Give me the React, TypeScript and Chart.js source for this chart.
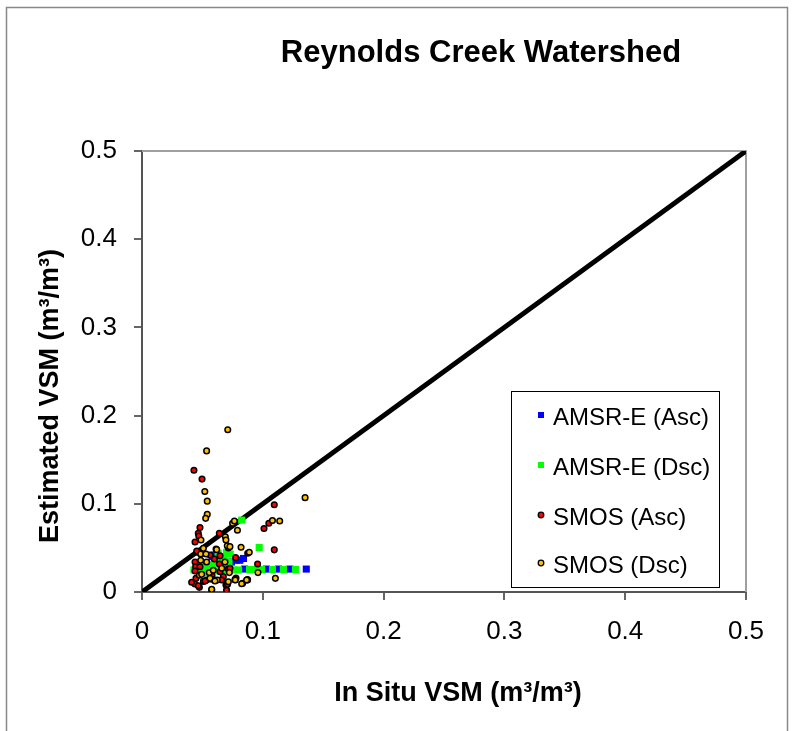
import React, { useEffect, useRef } from 'react';
import { Chart, registerables } from 'chart.js';

Chart.register(...registerables);

const chartTitle = 'Reynolds Creek Watershed';
const xAxisTitle = 'In Situ VSM (m³/m³)';
const yAxisTitle = 'Estimated VSM (m³/m³)';
const seriesNames = ['AMSR-E (Asc)', 'AMSR-E (Dsc)', 'SMOS (Asc)', 'SMOS (Dsc)'];
const axisTicks = [0, 0.1, 0.2, 0.3, 0.4, 0.5];
const identityLine = [0, 0.5];

const amsrAsc: [number, number][] = [
  [0.058, 0.040], [0.060, 0.042], [0.064, 0.037], [0.074, 0.034], [0.078, 0.036],
  [0.081, 0.036], [0.084, 0.038], [0.052, 0.030], [0.056, 0.028], [0.067, 0.026],
  [0.072, 0.026], [0.085, 0.026], [0.103, 0.026], [0.113, 0.026], [0.1225, 0.026],
  [0.136, 0.026],
];

const amsrDsc: [number, number][] = [
  [0.0825, 0.0815], [0.097, 0.0505], [0.070, 0.045], [0.073, 0.043], [0.068, 0.040],
  [0.066, 0.036], [0.072, 0.034], [0.062, 0.033], [0.058, 0.031], [0.055, 0.029],
  [0.050, 0.027], [0.046, 0.025], [0.043, 0.025], [0.053, 0.022], [0.060, 0.024],
  [0.065, 0.026], [0.070, 0.025], [0.076, 0.025], [0.080, 0.025], [0.089, 0.0255],
  [0.094, 0.0255], [0.099, 0.0255], [0.108, 0.0255], [0.117, 0.0255], [0.127, 0.0255],
  [0.048, 0.032], [0.063, 0.044],
];

const smosAsc: [number, number][] = [
  [0.043, 0.138], [0.0497, 0.128], [0.1095, 0.099], [0.105, 0.078], [0.101, 0.072],
  [0.1095, 0.0478], [0.048, 0.073], [0.0466, 0.0665], [0.047, 0.0635], [0.0439, 0.0567],
  [0.064, 0.0665], [0.0875, 0.044], [0.0957, 0.0317], [0.0775, 0.039], [0.0613, 0.0487],
  [0.0646, 0.041], [0.0458, 0.045], [0.0439, 0.034], [0.0444, 0.0287], [0.0439, 0.009],
  [0.0475, 0.0053], [0.070, 0.0023], [0.0695, 0.008], [0.0673, 0.0174], [0.066, 0.0136],
  [0.0535, 0.0136], [0.0508, 0.012], [0.0778, 0.0159], [0.0715, 0.026], [0.0453, 0.0465],
  [0.0715, 0.050], [0.0563, 0.042], [0.0599, 0.0374], [0.064, 0.0317], [0.0646, 0.023],
  [0.048, 0.0287], [0.0439, 0.0238], [0.0447, 0.0155], [0.0522, 0.0125], [0.077, 0.014],
  [0.0466, 0.0071], [0.0708, 0.0087], [0.0411, 0.011], [0.0728, 0.027], [0.058, 0.018],
];

const smosDsc: [number, number][] = [
  [0.071, 0.184], [0.0535, 0.160], [0.052, 0.114], [0.054, 0.103], [0.054, 0.088],
  [0.0527, 0.0835], [0.135, 0.107], [0.075, 0.078], [0.0765, 0.0805], [0.079, 0.070],
  [0.108, 0.081], [0.114, 0.0805], [0.0488, 0.059], [0.069, 0.0627], [0.0695, 0.059],
  [0.0706, 0.0525], [0.0728, 0.0514], [0.082, 0.0507], [0.096, 0.022], [0.1104, 0.0155],
  [0.0874, 0.014], [0.0486, 0.043], [0.053, 0.043], [0.0535, 0.034], [0.0475, 0.019],
  [0.0557, 0.022], [0.0577, 0.0023], [0.0715, 0.0117], [0.0623, 0.0136], [0.0577, 0.0144],
  [0.0772, 0.0136], [0.0833, 0.0098], [0.0872, 0.0136], [0.0723, 0.022], [0.0508, 0.0495],
  [0.0618, 0.048], [0.0888, 0.045], [0.0486, 0.036], [0.0687, 0.034], [0.066, 0.027],
  [0.059, 0.0246], [0.0494, 0.020], [0.0563, 0.0155], [0.0604, 0.0125], [0.0825, 0.0094],
  [0.0866, 0.0136], [0.0577, 0.003],
];

const seriesColors = ['#0000FF', '#00FF00', '#FF0000', '#FFC000'];
const seriesShapes = ['rect', 'rect', 'circle', 'circle'];

const FONT = "'Liberation Sans', Arial, Helvetica, sans-serif";

const decorPlugin = {
  id: 'decor',
  beforeDatasetsDraw(chart: any) {
    const { ctx, chartArea: a } = chart;
    ctx.save();
    ctx.strokeStyle = '#a0a0a0';
    ctx.lineWidth = 2;
    ctx.beginPath();
    ctx.moveTo(a.left, a.top);
    ctx.lineTo(a.right, a.top);
    ctx.lineTo(a.right, a.bottom);
    ctx.stroke();
    ctx.restore();
  },
  afterDraw(chart: any) {
    const { ctx, chartArea: a } = chart;
    ctx.save();
    // outer frame
    ctx.strokeStyle = '#888';
    ctx.lineWidth = 1.5;
    ctx.strokeRect(6.5, 7.5, 781, 800);

    // chart title
    ctx.fillStyle = '#000';
    ctx.font = `bold 31px ${FONT}`;
    ctx.textAlign = 'center';
    ctx.textBaseline = 'alphabetic';
    ctx.fillText(chartTitle, 481, 62);

    // x axis title
    ctx.font = `bold 27px ${FONT}`;
    ctx.fillText(xAxisTitle, 458, 701);

    // y axis title
    ctx.save();
    ctx.translate(58, 396);
    ctx.rotate(-Math.PI / 2);
    ctx.fillText(yAxisTitle, 0, 0);
    ctx.restore();

    // legend
    const bx = 511, by = 391, bw = 208, bh = 196;
    ctx.fillStyle = '#fff';
    ctx.fillRect(bx, by, bw, bh);
    ctx.strokeStyle = '#000';
    ctx.lineWidth = 1;
    ctx.strokeRect(bx + 0.5, by + 0.5, bw, bh);
    ctx.font = `24px ${FONT}`;
    ctx.textAlign = 'left';
    const rowY = [415, 465, 515, 563];
    seriesNames.forEach((name, i) => {
      const cy = rowY[i];
      const cx = 541;
      if (seriesShapes[i] === 'rect') {
        ctx.fillStyle = seriesColors[i];
        ctx.fillRect(cx - 3, cy - 3, 6, 6);
      } else {
        ctx.beginPath();
        ctx.arc(cx, cy, 2.8, 0, Math.PI * 2);
        ctx.fillStyle = seriesColors[i];
        ctx.fill();
        ctx.strokeStyle = '#000';
        ctx.lineWidth = 1.3;
        ctx.stroke();
      }
      ctx.fillStyle = '#000';
      ctx.textBaseline = 'alphabetic';
      ctx.fillText(name, 553, cy + 10);
    });
    ctx.restore();
  },
};

const toPts = (arr: [number, number][]) => arr.map(([x, y]) => ({ x, y }));

export default function App() {
  const ref = useRef<HTMLCanvasElement>(null);
  useEffect(() => {
    const canvas = ref.current;
    if (!canvas) return;
    Chart.defaults.font.family = FONT;
    const seriesData = [amsrAsc, amsrDsc, smosAsc, smosDsc];
    const datasets: any[] = [
      {
        label: '1:1',
        data: identityLine.map((v) => ({ x: v, y: v })),
        showLine: true,
        borderColor: '#000',
        borderWidth: 5,
        pointRadius: 0,
        order: 5,
      },
      ...seriesData.map((d, i) => ({
        label: seriesNames[i],
        data: toPts(d),
        pointStyle: seriesShapes[i],
        pointRadius: seriesShapes[i] === 'rect' ? 5 : 2.8,
        backgroundColor: seriesColors[i],
        borderColor: seriesShapes[i] === 'rect' ? seriesColors[i] : '#000',
        borderWidth: seriesShapes[i] === 'rect' ? 0 : 1.5,
        order: 4 - i,
      })),
    ];
    const chart = new Chart(canvas, {
      type: 'scatter',
      data: { datasets },
      options: {
        animation: false,
        responsive: false,
        events: [],
        layout: { padding: { top: 151, left: 0, right: 58, bottom: 0 } },
        plugins: {
          legend: { display: false },
          title: { display: false },
          tooltip: { enabled: false },
        },
        scales: {
          x: {
            type: 'linear',
            min: 0,
            max: 0.5,
            afterBuildTicks: (s: any) => {
              s.ticks = axisTicks.map((v) => ({ value: v }));
            },
            afterFit: (s: any) => {
              s.height = 139;
            },
            grid: { drawOnChartArea: false, drawTicks: true, tickLength: 8, color: '#666', lineWidth: 2 },
            border: { display: true, color: '#555', width: 2 },
            ticks: {
              color: '#000',
              font: { family: FONT, size: 26 },
              padding: 16,
              maxRotation: 0,
              autoSkip: false,
              callback: (v: any) => String(v),
            },
          },
          y: {
            type: 'linear',
            min: 0,
            max: 0.5,
            afterBuildTicks: (s: any) => {
              s.ticks = axisTicks.map((v) => ({ value: v }));
            },
            afterFit: (s: any) => {
              s.width = 142;
            },
            grid: { drawOnChartArea: false, drawTicks: true, tickLength: 8, color: '#666', lineWidth: 2 },
            border: { display: true, color: '#555', width: 2 },
            ticks: {
              color: '#000',
              font: { family: FONT, size: 26 },
              padding: 17,
              autoSkip: false,
              callback: (v: any) => String(v),
            },
          },
        },
      } as any,
      plugins: [decorPlugin],
    });
    return () => chart.destroy();
  }, []);
  return (
    <div style={{ position: 'absolute', left: 0, top: 0, width: 804, height: 731, background: '#fff' }}>
      <canvas ref={ref} width={804} height={731} style={{ display: 'block' }} />
    </div>
  );
}
